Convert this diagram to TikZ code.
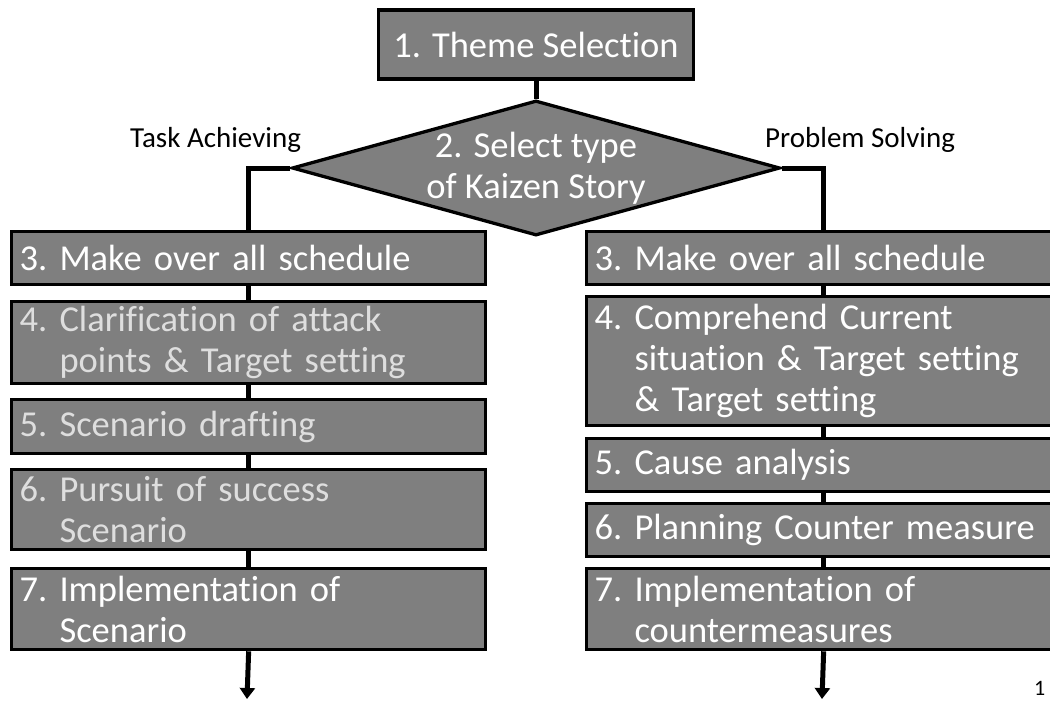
\documentclass[tikz,border=0pt]{standalone}
\usepackage{fontspec}
\setmainfont{Carlito}[Ligatures=NoCommon]
\usetikzlibrary{shapes.geometric,arrows.meta}
\definecolor{boxgray}{RGB}{127,127,127}
\definecolor{dimtext}{RGB}{222,222,222}
\begin{document}
\begin{tikzpicture}[x=1pt,y=-1pt,
  big/.style={font=\fontsize{36.5}{41}\selectfont},
  stepbox/.style={big, draw=black, line width=3.3pt, fill=boxgray, text=white,
    anchor=north west, minimum width=474pt, text width=458pt,
    inner xsep=8pt, inner ysep=0pt, align=left},
  dim/.style={text=dimtext},
  branch/.style={font=\fontsize{29}{34}\selectfont, text=black, anchor=base west, inner sep=0pt},
  link/.style={draw=black, line width=5pt},
  endarrow/.style={link, -{Triangle[width=15pt,length=11pt]}}]
\useasboundingbox (0,0) rectangle (1050,701);
\clip (0,0) rectangle (1050,701);

% free ends of the two output arrows
\coordinate (outl) at (247,699);
\coordinate (outr) at (822,699);

% top of the flow
\node[big, draw=black, line width=3.3pt, fill=boxgray, text=white,
  minimum width=315pt, minimum height=69pt, inner sep=0pt] (theme) at (536,44.5) {1. Theme Selection};
\node[diamond, draw=black, line width=3.3pt, fill=boxgray, aspect=3.6,
  minimum width=488pt, minimum height=135pt, inner sep=0pt,
  label={[big, text=white, align=center]center:2. Select type\\of Kaizen Story}] (story) at (536,168) {};

\node[branch] (task) at (130,147) {Task Achieving};
\node[branch] (prob) at (765,147) {Problem Solving};

% task achieving column
\node[stepbox, minimum height=53pt] (l3) at (10,230) {3.~Make over all schedule};
\node[stepbox, dim, minimum height=82pt] (l4) at (10,300) {4.~Clarification of attack\\\hphantom{4.~}points \& Target setting};
\node[stepbox, dim, minimum height=54pt] (l5) at (10,398) {5.~Scenario drafting};
\node[stepbox, dim, minimum height=80pt] (l6) at (10,468) {6.~Pursuit of success\\\hphantom{6.~}Scenario};
\node[stepbox, minimum height=81pt] (l7) at (10,567) {7.~Implementation of\\\hphantom{7.~}Scenario};

% problem solving column
\node[stepbox, minimum height=53pt] (r3) at (585,230) {3.~Make over all schedule};
\node[stepbox, minimum height=129pt] (r4) at (585,295) {4.~Comprehend Current\\\hphantom{4.~}situation \& Target setting\\\hphantom{4.~}\& Target setting};
\node[stepbox, minimum height=53pt] (r5) at (585,437) {5.~Cause analysis};
\node[stepbox, minimum height=53pt] (r6) at (585,502) {6.~Planning Counter measure};
\node[stepbox, minimum height=81pt] (r7) at (585,567) {7.~Implementation of\\\hphantom{7.~}countermeasures};

\node[font=\fontsize{22}{26}\selectfont, anchor=base west, inner sep=0pt] (pg) at (1034,695) {1};

% connectors
\draw[link] (theme.south) -- (story.north);
\draw[link] (story.west) -| (l3.north);
\draw[link] (story.east) -| (r3.north);
\draw[link] (l3.south) -- (l4.north);
\draw[link] (l4.south) -- (l5.north);
\draw[link] (l5.south) -- (l6.north);
\draw[link] (l6.south) -- (l7.north);
\draw[endarrow] (l7.south) -- (outl);
\draw[link] (r3.south) -- (r4.north);
\draw[link] (r4.south) -- (r5.north);
\draw[link] (r5.south) -- (r6.north);
\draw[link] (r6.south) -- (r7.north);
\draw[endarrow] (r7.south) -- (outr);
\end{tikzpicture}
\end{document}
